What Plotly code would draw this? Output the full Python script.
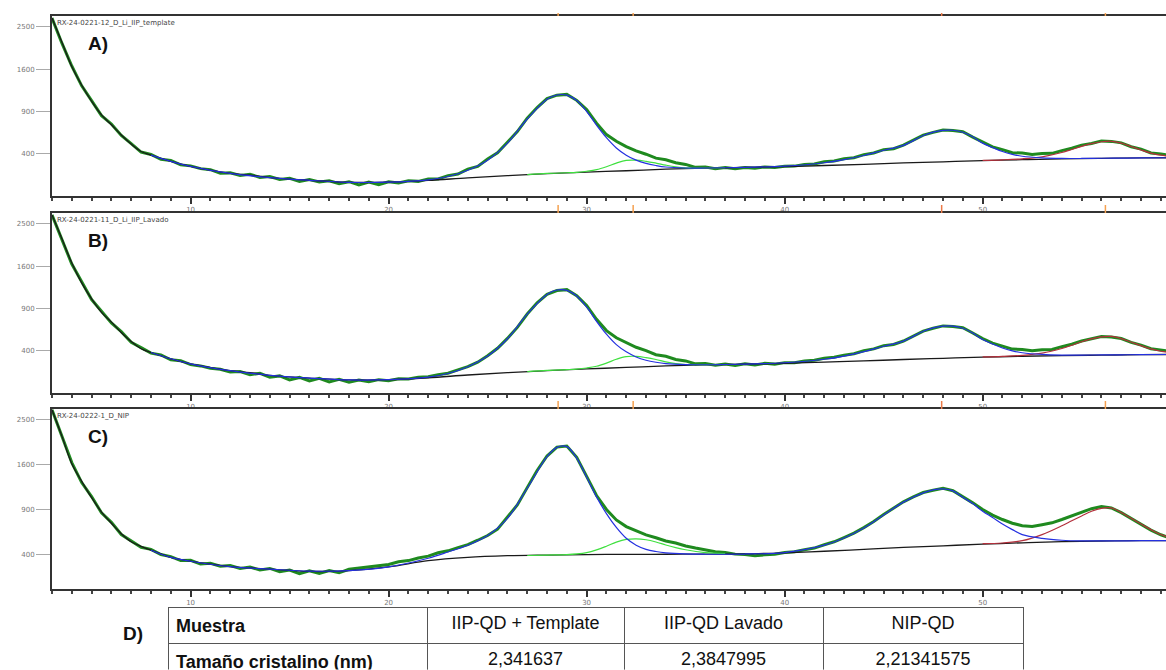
import numpy as np
import plotly.graph_objects as go

# 2-theta sampling grid of the observed patterns (deg)
twotheta = np.arange(3.0, 59.51, 0.5)

obs_a = [2716, 2130, 1660, 1300, 1060, 840, 730, 590, 500, 415,
         392, 348, 338, 300, 292, 270, 262, 236, 238, 220,
         228, 206, 212, 192, 200, 180, 192, 176, 184, 166,
         178, 158, 176, 160, 178, 170, 184, 180, 196, 196,
         218, 230, 266, 288, 350, 408, 515, 636, 806, 955,
         1092, 1145, 1158, 1064, 926, 740, 600, 525, 468, 426,
         394, 358, 344, 318, 304, 280, 282, 270, 278, 270,
         279, 273, 283, 279, 289, 290, 304, 308, 326, 333,
         352, 362, 390, 406, 438, 448, 484, 536, 594, 626,
         655, 650, 634, 571, 514, 466, 438, 408, 405, 392,
         401, 402, 429, 452, 484, 502, 529, 524, 508, 468,
         444, 406, 395, 382]
obs_b = [2720, 2160, 1640, 1320, 1030, 860, 705, 600, 482, 428,
         376, 360, 318, 310, 278, 268, 250, 242, 222, 226,
         204, 214, 188, 196, 170, 186, 164, 180, 158, 174,
         156, 170, 160, 172, 166, 178, 176, 188, 190, 204,
         214, 238, 262, 298, 352, 422, 524, 650, 822, 982,
         1112, 1172, 1186, 1090, 940, 752, 612, 530, 476, 432,
         400, 362, 348, 320, 308, 284, 286, 274, 282, 272,
         284, 276, 288, 282, 294, 294, 308, 314, 330, 340,
         358, 370, 398, 416, 448, 460, 496, 550, 606, 640,
         668, 662, 646, 584, 522, 474, 444, 414, 410, 398,
         408, 410, 438, 462, 496, 516, 544, 540, 522, 482,
         454, 418, 404, 392]
obs_c = [2727, 2130, 1640, 1300, 1085, 860, 740, 600, 530, 470,
         450, 402, 384, 350, 352, 322, 328, 305, 310, 288,
         298, 276, 288, 264, 276, 250, 270, 252, 272, 256,
         282, 290, 298, 312, 318, 340, 350, 372, 388, 418,
         436, 466, 496, 540, 590, 660, 800, 965, 1220, 1500,
         1760, 1930, 1950, 1735, 1400, 1100, 905, 770, 690, 640,
         596, 566, 532, 512, 482, 462, 446, 428, 420, 406,
         402, 392, 400, 404, 420, 428, 446, 462, 494, 524,
         568, 616, 678, 750, 838, 920, 1010, 1080, 1145, 1180,
         1210, 1172, 1085, 995, 905, 830, 775, 730, 700, 690,
         712, 735, 775, 820, 872, 915, 945, 925, 862, 790,
         715, 650, 598, 560]

# background
bg_x = [3, 3.5, 4, 4.5, 5, 5.5, 6, 6.5, 7, 7.5, 8, 9, 10, 11, 12, 13, 14, 16, 18, 20,
        22, 24, 26, 28, 30, 32, 34, 36, 38, 40, 42, 44, 46, 48, 50, 52, 54, 56, 58, 59.5]
bg_a = [2716, 2150, 1650, 1310, 1050, 850, 720, 595, 495, 420, 385, 330, 288, 258, 234, 222, 205, 187, 174, 175,
        186, 203, 218, 232, 244, 254, 266, 274, 280, 286, 295, 305, 316, 326, 336, 344, 351, 356, 360, 362]
bg_b = [2720, 2160, 1660, 1300, 1040, 845, 715, 590, 490, 418, 382, 326, 284, 255, 232, 218, 200, 182, 170, 172,
        184, 202, 218, 232, 245, 256, 268, 276, 282, 288, 298, 308, 320, 330, 340, 348, 354, 358, 362, 364]
bg_c = [2727, 2150, 1620, 1320, 1070, 870, 730, 610, 525, 478, 442, 377, 345, 321, 302, 292, 283, 266, 272, 300,
        350, 378, 392, 398, 402, 404, 405, 406, 408, 418, 432, 450, 468, 484, 500, 514, 526, 532, 535, 536]

# peak 1 (~28.6 deg) + background
p1_x = [8, 9, 10, 12, 14, 16, 18, 20, 22, 23, 24, 25, 26, 27, 28, 28.5, 29, 29.5, 30, 30.5,
        31, 31.5, 32, 32.5, 33, 33.5, 34, 35, 36, 37, 38]
p1_a = [385, 330, 288, 234, 205, 187, 174, 175, 190, 212, 258, 340, 505, 795, 1080, 1148, 1145, 1060, 900, 715,
        565, 455, 385, 340, 312, 295, 283, 275, 275, 277, 280]
p1_b = [382, 326, 284, 232, 200, 182, 170, 172, 188, 212, 262, 350, 520, 820, 1110, 1180, 1175, 1085, 920, 725,
        570, 458, 388, 342, 314, 297, 286, 278, 277, 279, 282]
p1_c = [442, 377, 345, 302, 283, 268, 272, 300, 370, 425, 490, 590, 790, 1210, 1750, 1925, 1940, 1720, 1390, 1080,
        850, 680, 560, 490, 450, 430, 418, 408, 405, 405, 406]

# peak 2 (~32.4 deg) + background
p2_x = [27, 28, 29, 29.5, 30, 30.5, 31, 31.5, 32, 32.5, 33, 33.5, 34, 34.5, 35, 36, 37]
p2_a = [225, 234, 239, 242, 250, 262, 285, 315, 338, 340, 330, 315, 298, 284, 276, 275, 277]
p2_b = [225, 234, 240, 244, 252, 265, 290, 322, 345, 347, 336, 320, 300, 286, 279, 277, 279]
p2_c = [394, 398, 402, 408, 420, 445, 480, 520, 548, 555, 545, 522, 492, 466, 446, 420, 410]

# peak 3 (~48 deg) + background
p3_x = [38, 40, 42, 43, 44, 45, 46, 47, 47.5, 48, 48.5, 49, 49.5, 50, 50.5, 51, 51.5, 52, 53, 54, 55, 56,
        57, 58, 59.5]
p3_a = [280, 290, 318, 345, 382, 432, 482, 590, 630, 650, 652, 628, 575, 505, 460, 420, 393, 375, 360, 355, 355, 357,
        358, 360, 362]
p3_b = [282, 293, 322, 350, 390, 442, 495, 605, 645, 665, 666, 640, 585, 512, 465, 425, 398, 380, 364, 358, 358, 360,
        361, 362, 364]
p3_c = [408, 420, 490, 563, 673, 832, 1005, 1140, 1185, 1200, 1170, 1075, 985, 880, 800, 720, 655, 600, 560, 540, 533, 533,
        534, 535, 536]

# peak 4 (~56.3 deg) + background
p4_x = [50, 51, 52, 53, 54, 54.5, 55, 55.5, 56, 56.5, 57, 57.5, 58, 58.5, 59, 59.5]
p4_a = [338, 343, 352, 370, 410, 440, 472, 500, 520, 525, 505, 470, 435, 405, 385, 375]
p4_b = [342, 347, 356, 376, 420, 452, 488, 518, 540, 545, 522, 485, 448, 416, 394, 382]
p4_c = [505, 512, 535, 600, 700, 760, 820, 880, 920, 925, 865, 790, 720, 655, 600, 565]

ref_lines = [28.56, 32.35, 47.93, 56.2]
ref_colors = ["#f5a150", "#f5a150", "#ec7a48", "#f5a150"]
ytick_counts = [400, 900, 1600, 2500]
xtick_vals = [10, 20, 30, 40, 50]
sample_names = ["RX-24-0221-12_D_Li_IIP_template", "RX-24-0221-11_D_Li_IIP_Lavado", "RX-24-0222-1_D_NIP"]
panel_letters = ["A)", "B)", "C)"]

table_head = ["<b>Muestra</b>", "IIP-QD + Template", "IIP-QD Lavado", "NIP-QD"]
table_row = ["<b>Tamaño cristalino (nm)</b>", "2,341637", "2,3847995", "2,21341575"]

W, H = 1166, 670
panels = [
    dict(obs=obs_a, bg=bg_a, p1=p1_a, p2=p2_a, p3=p3_a, p4=p4_a, top=16, bottom=196, yr=[9.95, 52.6]),
    dict(obs=obs_b, bg=bg_b, p1=p1_b, p2=p2_b, p3=p3_b, p4=p4_b, top=213, bottom=393, yr=[9.95, 52.6]),
    dict(obs=obs_c, bg=bg_c, p1=p1_c, p2=p2_c, p3=p3_c, p4=p4_c, top=409, bottom=589, yr=[12.4, 52.4]),
]

fig = go.Figure()
layout = {}
annotations = []
shapes = []

for i, p in enumerate(panels):
    n = "" if i == 0 else str(i + 1)
    xa, ya = "x" + n, "y" + n

    def line(xs, ys, color, width, shape="spline"):
        fig.add_trace(go.Scatter(x=xs, y=np.sqrt(ys), mode="lines", xaxis=xa, yaxis=ya,
                                 line=dict(color=color, width=width, shape=shape),
                                 showlegend=False, hoverinfo="skip"))

    line(twotheta, p["obs"], "#1f8a1f", 3, "linear")
    line(bg_x, p["bg"], "#1a1a1a", 1.3)
    line(p2_x, p["p2"], "#3fe03f", 1.2)
    line(p4_x, p["p4"], "#b3303c", 1.2)
    line(p1_x, p["p1"], "#2430e0", 1.2)
    line(p3_x, p["p3"], "#2430e0", 1.2)

    y0 = 1 - p["bottom"] / H
    y1 = 1 - p["top"] / H
    layout["xaxis" + n] = dict(
        domain=[52 / W, 1.0], range=[3, 59.26], anchor=ya, automargin=False,
        showline=True, linecolor="#333", linewidth=2, mirror=True,
        showgrid=False, zeroline=False,
        tickvals=xtick_vals, ticks="outside", ticklen=6, tickwidth=1.5, tickcolor="#333",
        tickfont=dict(family="DejaVu Sans", size=7, color="#777"),
        minor=dict(dtick=1, ticks="outside", ticklen=3, tickcolor="#444", showgrid=False),
    )
    layout["yaxis" + n] = dict(
        domain=[y0, y1], range=p["yr"], anchor=xa, automargin=False,
        showline=True, linecolor="#333", linewidth=2, mirror=True,
        showgrid=False, zeroline=False,
        tickvals=list(np.sqrt(ytick_counts)), ticktext=[str(v) for v in ytick_counts],
        ticks="outside", ticklen=14, tickcolor="#aaa",
        tickfont=dict(family="DejaVu Sans", size=7, color="#777"),
    )

    annotations.append(dict(x=55 / W, y=y1 - 1 / H, xref="paper", yref="paper", text=sample_names[i],
                            showarrow=False, xanchor="left", yanchor="top",
                            font=dict(family="DejaVu Sans", size=7, color="#444")))
    annotations.append(dict(x=98 / W, y=y1 - 27 / H, xref="paper", yref="paper", text="<b>" + panel_letters[i] + "</b>",
                            showarrow=False, xanchor="center", yanchor="middle",
                            font=dict(family="Arial", size=19, color="#111")))

    mark_len = 3 if i == 0 else 8
    for rx, rc in zip(ref_lines, ref_colors):
        shapes.append(dict(type="line", xref=xa, yref="paper", x0=rx, x1=rx,
                           y0=y1, y1=y1 + mark_len / H, line=dict(color=rc, width=1.5)))

annotations.append(dict(x=133 / W, y=1 - 633 / H, xref="paper", yref="paper", text="<b>D)</b>",
                        showarrow=False, xanchor="center", yanchor="middle",
                        font=dict(family="Arial", size=19, color="#111")))

fig.add_trace(go.Table(
    domain=dict(x=[168 / W, 1023 / W], y=[0, 1 - 607.5 / H]),
    columnwidth=[259, 197, 199, 200],
    header=dict(values=table_head, align=["left", "center", "center", "center"], height=31,
                fill_color="white", line_color="#555",
                font=dict(family="Arial", size=18, color="#111")),
    cells=dict(values=[[v] for v in table_row], align=["left", "center", "center", "center"], height=31,
               fill_color="white", line_color="#555",
               font=dict(family="Arial", size=18, color="#111")),
))

fig.update_layout(
    width=W, height=H, margin=dict(l=0, r=0, t=0, b=0),
    paper_bgcolor="white", plot_bgcolor="white",
    annotations=annotations, shapes=shapes, showlegend=False,
    **layout,
)

# drop the browser's default page margin so the figure fills the window
fig.write_html("out.html", config={"displayModeBar": False},
               post_script="document.body.style.margin='0px';")
